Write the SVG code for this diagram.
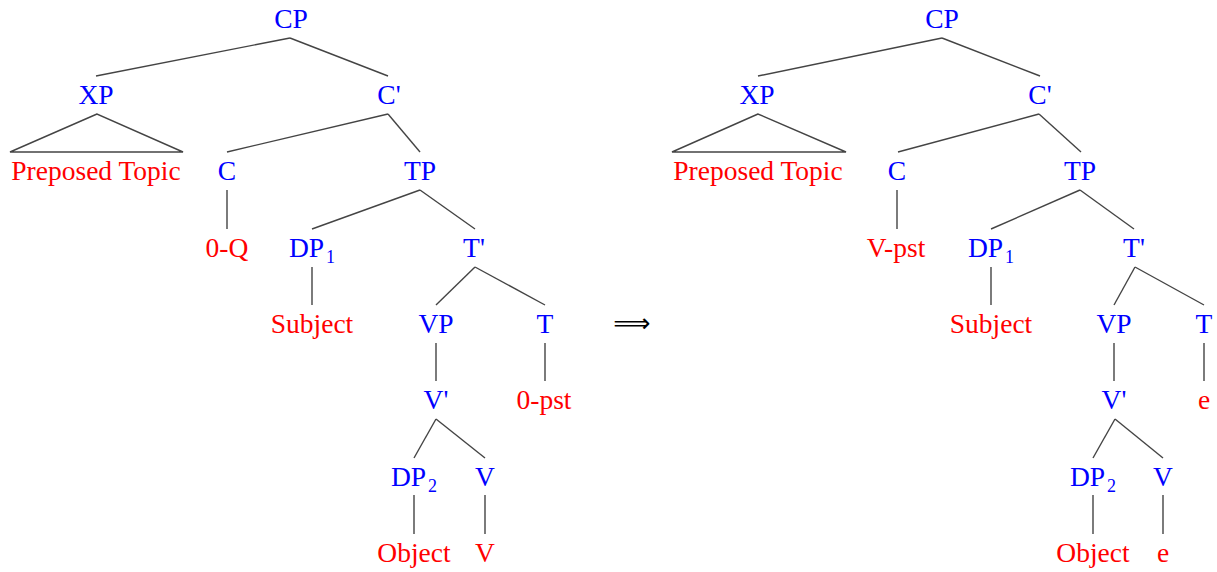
<svg xmlns="http://www.w3.org/2000/svg" width="1217" height="572" viewBox="0 0 1217 572">
<style>
text{font-family:"Liberation Serif","DejaVu Serif",serif;font-size:27.5px;text-anchor:middle}
.n{fill:#0000ff}
.l{fill:#ff0000}
.sub{font-size:18px}
#connectors line,#connectors polygon{stroke:#444;stroke-width:1.4;fill:none}
.arrow{font-family:"DejaVu Sans",sans-serif;font-size:26px;fill:#000}
</style>
<rect width="1217" height="572" fill="#fff"/>
<g id="connectors">
<line x1="290" y1="38" x2="96" y2="76"/>
<line x1="290" y1="38" x2="388" y2="76"/>
<polygon points="97,114 10,152 183,152"/>
<line x1="388" y1="114" x2="227" y2="152"/>
<line x1="388" y1="114" x2="420" y2="152"/>
<line x1="227" y1="190" x2="227" y2="229"/>
<line x1="420" y1="190" x2="312" y2="229"/>
<line x1="420" y1="190" x2="475" y2="229"/>
<line x1="312" y1="267" x2="312" y2="305"/>
<line x1="475" y1="267" x2="436" y2="305"/>
<line x1="475" y1="267" x2="545" y2="305"/>
<line x1="436" y1="343" x2="436" y2="381"/>
<line x1="545" y1="343" x2="545" y2="381"/>
<line x1="436" y1="419" x2="414" y2="458"/>
<line x1="436" y1="419" x2="485" y2="458"/>
<line x1="414" y1="495" x2="414" y2="534"/>
<line x1="485" y1="495" x2="485" y2="534"/>
<line x1="942" y1="38" x2="758" y2="76"/>
<line x1="942" y1="38" x2="1040" y2="76"/>
<polygon points="758,114 672,152 846,152"/>
<line x1="1039" y1="114" x2="898" y2="152"/>
<line x1="1039" y1="114" x2="1081" y2="152"/>
<line x1="897" y1="190" x2="897" y2="229"/>
<line x1="1080" y1="190" x2="991" y2="229"/>
<line x1="1080" y1="190" x2="1134" y2="229"/>
<line x1="991" y1="267" x2="991" y2="305"/>
<line x1="1135" y1="267" x2="1114" y2="305"/>
<line x1="1135" y1="267" x2="1204" y2="305"/>
<line x1="1114" y1="343" x2="1114" y2="381"/>
<line x1="1204" y1="343" x2="1204" y2="381"/>
<line x1="1115" y1="419" x2="1093" y2="458"/>
<line x1="1115" y1="419" x2="1163" y2="458"/>
<line x1="1093" y1="495" x2="1093" y2="534"/>
<line x1="1163" y1="495" x2="1163" y2="534"/>
</g>
<g id="L-CP"><text class="n" x="291" y="28">CP</text></g>
<g id="L-XP"><text class="n" x="96" y="104">XP</text></g>
<g id="L-Cbar"><text class="n" x="389" y="104">C'</text></g>
<g id="L-topic"><text class="l" x="96" y="180">Preposed Topic</text></g>
<g id="L-C"><text class="n" x="227" y="180">C</text></g>
<g id="L-TP"><text class="n" x="420" y="180">TP</text></g>
<g id="L-0Q"><text class="l" x="227" y="257">0-Q</text></g>
<g id="L-DP1"><text class="n" x="312" y="257">DP<tspan class="sub" dx="2" dy="6">1</tspan></text></g>
<g id="L-Tbar"><text class="n" x="474" y="257">T'</text></g>
<g id="L-Subject"><text class="l" x="312" y="333">Subject</text></g>
<g id="L-VP"><text class="n" x="436" y="333">VP</text></g>
<g id="L-T"><text class="n" x="545" y="333">T</text></g>
<g id="L-Vbar"><text class="n" x="436" y="409">V'</text></g>
<g id="L-0pst"><text class="l" x="544" y="409">0-pst</text></g>
<g id="L-DP2"><text class="n" x="414" y="486">DP<tspan class="sub" dx="2" dy="6">2</tspan></text></g>
<g id="L-V"><text class="n" x="485" y="486">V</text></g>
<g id="L-Object"><text class="l" x="414" y="562">Object</text></g>
<g id="L-Vleaf"><text class="l" x="485" y="562">V</text></g>
<g id="arrow"><text class="arrow" x="632" y="332">⟹</text></g>
<g id="R-CP"><text class="n" x="942" y="28">CP</text></g>
<g id="R-XP"><text class="n" x="757" y="104">XP</text></g>
<g id="R-Cbar"><text class="n" x="1040" y="104">C'</text></g>
<g id="R-topic"><text class="l" x="758" y="180">Preposed Topic</text></g>
<g id="R-C"><text class="n" x="897" y="180">C</text></g>
<g id="R-TP"><text class="n" x="1080" y="180">TP</text></g>
<g id="R-Vpst"><text class="l" x="896" y="257">V-pst</text></g>
<g id="R-DP1"><text class="n" x="991" y="257">DP<tspan class="sub" dx="2" dy="6">1</tspan></text></g>
<g id="R-Tbar"><text class="n" x="1134" y="257">T'</text></g>
<g id="R-Subject"><text class="l" x="991" y="333">Subject</text></g>
<g id="R-VP"><text class="n" x="1114" y="333">VP</text></g>
<g id="R-T"><text class="n" x="1204" y="333">T</text></g>
<g id="R-Vbar"><text class="n" x="1114" y="409">V'</text></g>
<g id="R-e1"><text class="l" x="1204" y="409">e</text></g>
<g id="R-DP2"><text class="n" x="1093" y="486">DP<tspan class="sub" dx="2" dy="6">2</tspan></text></g>
<g id="R-V"><text class="n" x="1163" y="486">V</text></g>
<g id="R-Object"><text class="l" x="1093" y="562">Object</text></g>
<g id="R-e2"><text class="l" x="1163" y="562">e</text></g>
</svg>
